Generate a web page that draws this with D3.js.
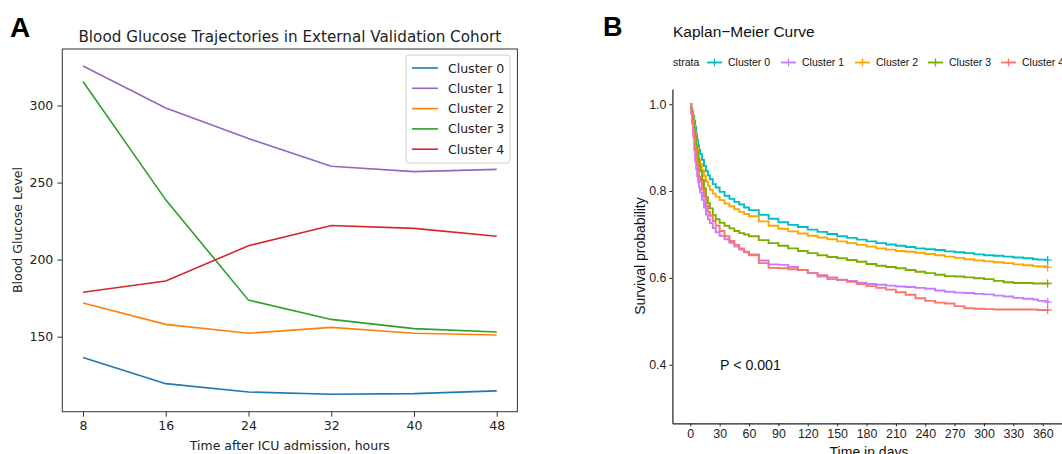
<!DOCTYPE html>
<html>
<head>
<meta charset="utf-8">
<script src="https://cdn.jsdelivr.net/npm/d3@7"></script>
<style>
  body { margin: 0; background: #fff; }
  svg { display: block; }
</style>
</head>
<body>
<script>
// ---- panel A data: glucose trajectories ----
var hours = [8, 16, 24, 32, 40, 48];
var clusterNames = ["Cluster 0", "Cluster 1", "Cluster 2", "Cluster 3", "Cluster 4"];
var glucose0 = [136.5, 119.5, 114.1, 112.6, 113.0, 114.8];
var glucose1 = [325.7, 298.4, 278.6, 260.6, 257.1, 258.6];
var glucose2 = [171.9, 158.0, 152.2, 156.0, 152.2, 151.1];
var glucose3 = [315.6, 238.8, 173.7, 161.2, 155.2, 153.0];
var glucose4 = [178.8, 186.1, 209.0, 222.1, 220.3, 215.2];
var glucoseTicksX = [8, 16, 24, 32, 40, 48];
var glucoseTicksY = [150, 200, 250, 300];

// ---- panel B data: Kaplan-Meier ----
var kmDays = [0, 1, 2, 3, 4, 5, 6, 7, 8, 9, 10, 12, 14, 16, 18, 20, 23, 26, 30, 35, 40, 45, 50, 55, 60,
  70, 80, 90, 100, 110, 120, 130, 140, 150, 160, 170, 180, 190, 200, 210, 220, 230, 240, 250, 260,
  270, 280, 290, 300, 310, 320, 330, 340, 350, 355, 365];
var surv0 = [1.0, 0.99, 0.982, 0.972, 0.962, 0.948, 0.932, 0.918, 0.905, 0.895, 0.885, 0.872, 0.858, 0.846, 0.836, 0.827, 0.816, 0.808, 0.798, 0.789, 0.782, 0.775, 0.769, 0.762, 0.756,
  0.745, 0.736, 0.728, 0.722, 0.717, 0.711, 0.706, 0.701, 0.696, 0.692, 0.688, 0.684, 0.680, 0.677, 0.674, 0.671, 0.668, 0.666, 0.664, 0.661,
  0.659, 0.657, 0.654, 0.652, 0.651, 0.649, 0.647, 0.645, 0.643, 0.642, 0.641];
var surv1 = [1.0, 0.978, 0.955, 0.925, 0.895, 0.868, 0.85, 0.834, 0.82, 0.808, 0.797, 0.78, 0.762, 0.746, 0.735, 0.726, 0.715, 0.705, 0.697, 0.689, 0.681, 0.672, 0.665, 0.659, 0.654,
  0.640, 0.631, 0.630, 0.625, 0.618, 0.611, 0.603, 0.597, 0.595, 0.593, 0.589, 0.586, 0.584, 0.582, 0.580, 0.579, 0.577, 0.575, 0.571, 0.568,
  0.566, 0.565, 0.563, 0.562, 0.559, 0.557, 0.554, 0.552, 0.550, 0.547, 0.544];
var surv2 = [1.0, 0.99, 0.978, 0.965, 0.95, 0.932, 0.915, 0.9, 0.885, 0.872, 0.862, 0.848, 0.834, 0.822, 0.812, 0.803, 0.794, 0.787, 0.779, 0.771, 0.765, 0.758, 0.752, 0.747, 0.742,
  0.730, 0.720, 0.713, 0.707, 0.702, 0.697, 0.693, 0.689, 0.684, 0.680, 0.676, 0.672, 0.668, 0.665, 0.662, 0.660, 0.658, 0.655, 0.652, 0.649,
  0.646, 0.643, 0.640, 0.638, 0.636, 0.634, 0.631, 0.629, 0.627, 0.626, 0.624];
var surv3 = [1.0, 0.988, 0.975, 0.96, 0.945, 0.925, 0.905, 0.89, 0.875, 0.86, 0.846, 0.826, 0.806, 0.786, 0.772, 0.76, 0.745, 0.735, 0.727, 0.72, 0.714, 0.708, 0.703, 0.7, 0.696,
  0.687, 0.68, 0.674, 0.668, 0.662, 0.657, 0.652, 0.648, 0.645, 0.641, 0.637, 0.632, 0.628, 0.625, 0.622, 0.618, 0.614, 0.611, 0.607, 0.604,
  0.603, 0.601, 0.599, 0.597, 0.593, 0.590, 0.588, 0.588, 0.587, 0.587, 0.587];
var surv4 = [1.0, 0.98, 0.962, 0.94, 0.92, 0.895, 0.876, 0.86, 0.846, 0.833, 0.822, 0.803, 0.786, 0.766, 0.752, 0.743, 0.731, 0.72, 0.708, 0.696, 0.685, 0.676, 0.668, 0.66, 0.652,
  0.634, 0.623, 0.622, 0.620, 0.618, 0.611, 0.606, 0.601, 0.596, 0.591, 0.586, 0.581, 0.577, 0.573, 0.567, 0.561, 0.553, 0.547, 0.543, 0.541,
  0.535, 0.530, 0.529, 0.528, 0.527, 0.527, 0.527, 0.527, 0.527, 0.526, 0.526];
var kmTicksX = [0, 30, 60, 90, 120, 150, 180, 210, 240, 270, 300, 330, 360];
var kmTicksY = [0.4, 0.6, 0.8, 1.0];

var colorsA = ["#1f77b4", "#9467bd", "#ff7f0e", "#2ca02c", "#d62728"];
var colorsB = ["#00BFC4", "#C77CFF", "#FFA500", "#7CAE00", "#F8766D"];

var svg = d3.select("body").append("svg")
  .attr("width", 1062)
  .attr("height", 454);
svg.append("rect").attr("width", 1062).attr("height", 454).attr("fill", "#fff");

// ================= panel A =================
var fontA = "DejaVu Sans, sans-serif";
var xA = d3.scaleLinear().domain([6, 50]).range([62.3, 517.4]);
var yA = d3.scaleLinear().domain([101.3, 336.7]).range([411.7, 49]);

var gA = svg.append("g");

var axA1 = gA.append("g").attr("transform", "translate(0,411.7)")
  .call(d3.axisBottom(xA).tickValues(glucoseTicksX).tickSize(5).tickPadding(4).tickSizeOuter(0));
var axA2 = gA.append("g").attr("transform", "translate(62.3,0)")
  .call(d3.axisLeft(yA).tickValues(glucoseTicksY).tickSize(5).tickPadding(4).tickSizeOuter(0));
[axA1, axA2].forEach(function(ax){
  ax.select(".domain").remove();
  ax.selectAll("text").style("font-family", fontA).style("font-size", "12.5px").attr("fill", "#222");
  ax.selectAll("line").attr("stroke", "#333");
});

// frame
gA.append("rect")
  .attr("x", 62.3).attr("y", 49)
  .attr("width", 517.4 - 62.3).attr("height", 411.7 - 49)
  .attr("fill", "none").attr("stroke", "#333").attr("stroke-width", 1);

var lineA = d3.line()
  .x(function(d, i){ return xA(hours[i]); })
  .y(function(d){ return yA(d); });

[glucose0, glucose1, glucose2, glucose3, glucose4].forEach(function(s, k){
  gA.append("path")
    .attr("d", lineA(s))
    .attr("fill", "none")
    .attr("stroke", colorsA[k])
    .attr("stroke-width", 1.6);
});

gA.append("text")
  .attr("x", 289.8).attr("y", 42)
  .attr("text-anchor", "middle")
  .style("font-family", fontA).style("font-size", "15.2px").attr("fill", "#222")
  .text("Blood Glucose Trajectories in External Validation Cohort");

gA.append("text")
  .attr("x", 289.8).attr("y", 450)
  .attr("text-anchor", "middle")
  .style("font-family", fontA).style("font-size", "12.5px").attr("fill", "#222")
  .text("Time after ICU admission, hours");

gA.append("text")
  .attr("transform", "translate(22,230) rotate(-90)")
  .attr("text-anchor", "middle")
  .style("font-family", fontA).style("font-size", "12.5px").attr("fill", "#222")
  .text("Blood Glucose Level");

// legend
var legA = gA.append("g");
legA.append("rect")
  .attr("x", 406).attr("y", 55).attr("width", 104).attr("height", 108)
  .attr("rx", 3).attr("fill", "#fff").attr("fill-opacity", 0.85)
  .attr("stroke", "#d0d0d0");
clusterNames.forEach(function(n, k){
  var yy = 68 + k * 20.3;
  legA.append("line").attr("x1", 412).attr("x2", 438).attr("y1", yy).attr("y2", yy)
    .attr("stroke", colorsA[k]).attr("stroke-width", 1.6);
  legA.append("text").attr("x", 448).attr("y", yy + 4.5)
    .style("font-family", fontA).style("font-size", "12.5px").attr("fill", "#222")
    .text(n);
});

svg.append("text").attr("x", 10).attr("y", 37)
  .style("font-family", "Liberation Sans, Arial, sans-serif").style("font-weight", "bold")
  .style("font-size", "28px").attr("fill", "#000").text("A");

// ================= panel B =================
var fontB = "Liberation Sans, Arial, sans-serif";
var xB = d3.scaleLinear().domain([-18.25, 383.25]).range([672.4, 1065.5]);
var yB = d3.scaleLinear().domain([0.265, 1.035]).range([423.3, 89]);

var gB = svg.append("g");

var axB1 = gB.append("g").attr("transform", "translate(0,423.3)")
  .call(d3.axisBottom(xB).tickValues(kmTicksX).tickSize(3).tickPadding(3).tickSizeOuter(0));
var axB2 = gB.append("g").attr("transform", "translate(672.4,0)")
  .call(d3.axisLeft(yB).tickValues(kmTicksY).tickFormat(d3.format(".1f")).tickSize(3).tickPadding(3).tickSizeOuter(0));
[axB1, axB2].forEach(function(ax){
  ax.select(".domain").attr("stroke", "#222").attr("stroke-width", 1.2);
  ax.selectAll("text").style("font-family", fontB).style("font-size", "12.4px").attr("fill", "#222");
  ax.selectAll("line").attr("stroke", "#222");
});

var lineB = d3.line()
  .curve(d3.curveStepAfter)
  .x(function(d, i){ return xB(kmDays[i]); })
  .y(function(d){ return yB(d); });

var survAll = [surv0, surv1, surv2, surv3, surv4];
// draw order so salmon/purple overlap like the original
[0, 2, 3, 1, 4].forEach(function(k){
  var s = survAll[k];
  gB.append("path")
    .attr("d", lineB(s))
    .attr("fill", "none")
    .attr("stroke", colorsB[k])
    .attr("stroke-width", 1.9);
  var cx = xB(kmDays[kmDays.length - 1]), cy = yB(s[s.length - 1]);
  gB.append("path")
    .attr("d", "M" + (cx - 4) + "," + cy + "H" + (cx + 4) + "M" + cx + "," + (cy - 4) + "V" + (cy + 4))
    .attr("stroke", colorsB[k]).attr("stroke-width", 1.3);
});

gB.append("text").attr("x", 720).attr("y", 370)
  .style("font-family", fontB).style("font-size", "14.2px").attr("fill", "#111")
  .text("P < 0.001");

gB.append("text").attr("x", 673).attr("y", 37)
  .style("font-family", fontB).style("font-size", "15.5px").attr("fill", "#111")
  .text("Kaplan\u2212Meier Curve");

gB.append("text").attr("x", 869).attr("y", 457)
  .attr("text-anchor", "middle")
  .style("font-family", fontB).style("font-size", "14px").attr("fill", "#111")
  .text("Time in days");

gB.append("text")
  .attr("transform", "translate(645,256) rotate(-90)")
  .attr("text-anchor", "middle")
  .style("font-family", fontB).style("font-size", "14px").attr("fill", "#111")
  .text("Survival probability");

// legend row
var legB = gB.append("g");
legB.append("text").attr("x", 673).attr("y", 66)
  .style("font-family", fontB).style("font-size", "10.5px").attr("fill", "#111")
  .text("strata");
var keyX = [707, 781, 855, 928, 1001];
clusterNames.forEach(function(n, k){
  var kx = keyX[k], ky = 62.5;
  legB.append("line").attr("x1", kx).attr("x2", kx + 15).attr("y1", ky).attr("y2", ky)
    .attr("stroke", colorsB[k]).attr("stroke-width", 1.9);
  legB.append("path")
    .attr("d", "M" + (kx + 7.5) + "," + (ky - 4) + "V" + (ky + 4))
    .attr("stroke", colorsB[k]).attr("stroke-width", 1.3);
  legB.append("text").attr("x", kx + 21).attr("y", ky + 3.8)
    .style("font-family", fontB).style("font-size", "10.5px").attr("fill", "#111")
    .text(n);
});

svg.append("text").attr("x", 603).attr("y", 36)
  .style("font-family", "Liberation Sans, Arial, sans-serif").style("font-weight", "bold")
  .style("font-size", "27px").attr("fill", "#000").text("B");
</script>
</body>
</html>
